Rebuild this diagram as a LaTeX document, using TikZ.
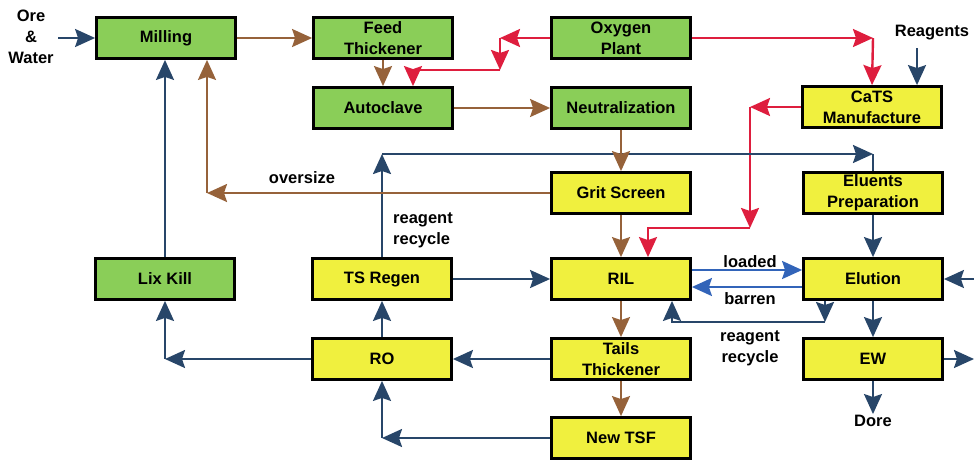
\documentclass[tikz,border=0pt]{standalone}
\usepackage{fontspec}
\setmainfont{Liberation Sans}
\usetikzlibrary{arrows.meta}
\definecolor{bgreen}{RGB}{138,206,88}
\definecolor{byellow}{RGB}{240,240,62}
\definecolor{navy}{RGB}{40,70,105}
\definecolor{brn}{RGB}{150,98,58}
\definecolor{rd}{RGB}{222,30,62}
\definecolor{bblue}{RGB}{50,100,185}
\begin{document}
\begin{tikzpicture}[x=1pt,y=-1pt,
  font=\bfseries\fontsize{16.5}{21}\selectfont,
  tip/.style={-{Stealth[length=20pt,width=18pt,inset=3pt]}},
  box/.style={draw=black, line width=2.8pt, minimum width=139pt, minimum height=41pt, align=center, inner sep=0pt},
  grn/.style={box, fill=bgreen},
  ylw/.style={box, fill=byellow},
  lbl/.style={align=center, inner sep=1pt},
  nv/.style={draw=navy, line width=2.2pt},
  bw/.style={draw=brn, line width=2.2pt},
  rl/.style={draw=rd, line width=2.4pt},
  bl/.style={draw=bblue, line width=2.4pt}]
\useasboundingbox (0,0) rectangle (974,461);
% boxes
\node[grn] (mill) at (166,38) {Milling};
\node[grn] (feed) at (383,38) {Feed\\Thickener};
\node[grn] (auto) at (383,108) {Autoclave};
\node[grn] (oxy) at (621,38) {Oxygen\\Plant};
\node[grn] (neut) at (621,108) {Neutralization};
\node[ylw] (cats) at (872,107) {CaTS\\Manufacture};
\node[ylw] (grit) at (621,193) {Grit Screen};
\node[ylw] (elprep) at (873,193) {Eluents\\Preparation};
\node[grn] (lix) at (165,279) {Lix Kill};
\node[ylw] (tsr) at (382,279) {TS Regen};
\node[ylw] (ril) at (621,279) {RIL};
\node[ylw] (elu) at (873,279) {Elution};
\node[ylw] (ro) at (382,359) {RO};
\node[ylw] (tails) at (621,359) {Tails\\Thickener};
\node[ylw] (ew) at (873,359) {EW};
\node[ylw] (tsf) at (621,438) {New TSF};
% text labels
\node[lbl] (ore) at (31,37) {Ore\\\&\\Water};
\node[lbl] (reag) at (932,33) {Reagents};
\node[lbl] (dore) at (873,421) {Dore};
\node[lbl] (over) at (302,178) {oversize};
\node[lbl, align=left] (rr1) at (423,230) {reagent\\recycle};
\node[lbl] (loaded) at (750,262) {loaded};
\node[lbl] (barren) at (750,299) {barren};
\node[lbl] (rr2) at (750,348) {reagent\\recycle};
% coordinates
\coordinate (o0) at (58,38);
\coordinate (o1) at (500,38);
\coordinate (o2) at (500,70);
\coordinate (o3) at (413,70);
\coordinate (c1) at (873,38);
\coordinate (rg) at (917,48);
\coordinate (r1) at (750,107);
\coordinate (r2) at (750,228);
\coordinate (r3) at (648,228);
\coordinate (g1) at (207,193);
\coordinate (t1) at (382,154);
\coordinate (t2) at (873,154);
\coordinate (e1) at (825,322);
\coordinate (e2) at (672,322);
\coordinate (rin) at (974,279);
\coordinate (rout) at (974,359);
\coordinate (k1) at (165,359);
\coordinate (n1) at (382,438);
% connectors
\draw[nv,tip] (o0) -- (mill.west);
\draw[bw,tip] (mill.east) -- (feed.west);
\draw[bw,tip] (feed.south) -- (auto.north);
\draw[rl,tip] (oxy.west) -- (o1);
\draw[rl,tip] (o1) -- (o2);
\draw[rl,tip] (o2) -- (o3) -- (o3 |- auto.north);
\draw[bw,tip] (auto.east) -- (neut.west);
\draw[rl,tip] (oxy.east) -- (c1);
\draw[rl,tip] (c1) -- (cats.north);
\draw[nv,tip] (rg) -- (rg |- cats.north);
\draw[rl,tip] (cats.west) -- (r1);
\draw[rl,tip] (r1) -- (r2);
\draw[rl,tip] (r2) -- (r3) -- (r3 |- ril.north);
\draw[nv,tip] (tsr.north) -- (t1);
\draw[nv,tip] (t1) -- (t2);
\draw[nv] (t2) -- (elprep.north);
\draw[bw,tip] (neut.south) -- (grit.north);
\draw[bw,tip] (grit.west) -- (g1);
\draw[bw,tip] (g1) -- (g1 |- mill.south);
\draw[nv,tip] (lix.north) -- (lix.north |- mill.south);
\draw[bw,tip] (grit.south) -- (ril.north);
\draw[nv,tip] (tsr.east) -- (ril.west);
\draw[bl,tip] ([yshift=9pt]ril.east) -- ([yshift=9pt]elu.west);
\draw[bl,tip] ([yshift=-8pt]elu.west) -- ([yshift=-8pt]ril.east);
\draw[nv,tip] (e1 |- elu.south) -- (e1);
\draw[nv,tip] (e1) -- (e2) -- (e2 |- ril.south);
\draw[nv,tip] (elprep.south) -- (elu.north);
\draw[nv,tip] (rin) -- (elu.east);
\draw[nv,tip] (elu.south) -- (ew.north);
\draw[nv,tip] (ew.east) -- (rout);
\draw[nv,tip] (ew.south) -- (dore.north);
\draw[bw,tip] (ril.south) -- (tails.north);
\draw[bw,tip] (tails.south) -- (tsf.north);
\draw[nv,tip] (tails.west) -- (ro.east);
\draw[nv,tip] (ro.west) -- (k1);
\draw[nv,tip] (k1) -- (lix.south);
\draw[nv,tip] (ro.north) -- (tsr.south);
\draw[nv,tip] (tsf.west) -- (n1);
\draw[nv,tip] (n1) -- (ro.south);
\end{tikzpicture}
\end{document}
